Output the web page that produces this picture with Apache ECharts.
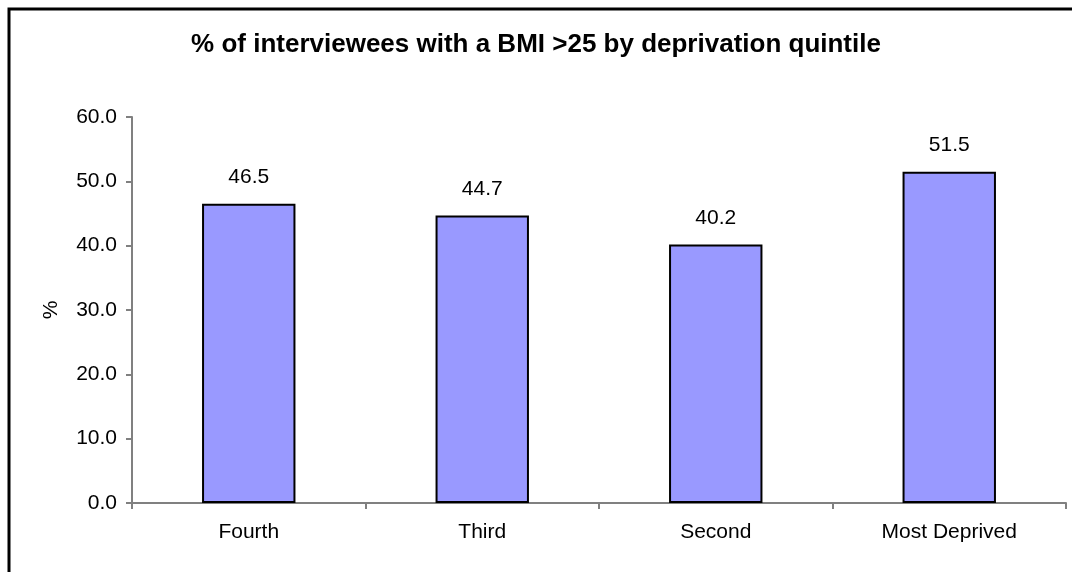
<!DOCTYPE html>
<html>
<head>
<meta charset="utf-8">
<script src="https://cdn.jsdelivr.net/npm/echarts@6/dist/echarts.min.js"></script>
<style>
  html, body { margin: 0; padding: 0; background: #fff; }
  #chart { width: 1072px; height: 572px; }
</style>
</head>
<body>
<div id="chart"></div>
<script>
// Deprivation quintiles and share of interviewees with BMI > 25
const categories = ['Fourth', 'Third', 'Second', 'Most Deprived'];
const bmiOver25 = [46.5, 44.7, 40.2, 51.5];
const yTicks = { min: 0, max: 60, interval: 10 };
const titleText = '% of interviewees with a BMI >25 by deprivation quintile';

const FONT = '"Liberation Sans", Arial, sans-serif';
const axisGrey = '#808080';

const chart = echarts.init(document.getElementById('chart'), null, { renderer: 'canvas' });
chart.setOption({
  animation: false,
  backgroundColor: '#fff',
  title: {
    text: titleText,
    left: 'center',
    top: 27,
    textStyle: { fontFamily: FONT, fontSize: 26, fontWeight: 'bold', color: '#000' }
  },
  graphic: [{
    type: 'polyline',
    shape: { points: [[9, 572], [9, 9], [1072, 9]] },
    style: { stroke: '#000', lineWidth: 3, fill: null }
  }],
  grid: { left: 132, right: 6, top: 117, bottom: 69, containLabel: false },
  xAxis: {
    type: 'category',
    data: categories,
    boundaryGap: true,
    axisLine: { lineStyle: { color: axisGrey, width: 2 } },
    axisTick: { show: true, alignWithLabel: false, length: 6, lineStyle: { color: axisGrey, width: 2 } },
    axisLabel: { fontFamily: FONT, fontSize: 21, color: '#000', margin: 19 }
  },
  yAxis: {
    type: 'value',
    name: '%',
    nameLocation: 'middle',
    nameGap: 70,
    nameRotate: 90,
    nameTextStyle: { fontFamily: FONT, fontSize: 21, color: '#000' },
    min: yTicks.min,
    max: yTicks.max,
    interval: yTicks.interval,
    axisLine: { show: true, lineStyle: { color: axisGrey, width: 2 } },
    axisTick: { show: true, length: 6, lineStyle: { color: axisGrey, width: 2 } },
    splitLine: { show: false },
    axisLabel: {
      fontFamily: FONT, fontSize: 21, color: '#000', margin: 15,
      formatter: v => v.toFixed(1)
    }
  },
  series: [{
    type: 'bar',
    data: bmiOver25,
    barWidth: '40%',
    itemStyle: { color: '#9999FF', borderColor: '#000', borderWidth: 2 },
    label: {
      show: true,
      position: 'top',
      distance: 16,
      fontFamily: FONT,
      fontSize: 21,
      color: '#000',
      formatter: p => p.value.toFixed(1)
    }
  }]
});
</script>
</body>
</html>
